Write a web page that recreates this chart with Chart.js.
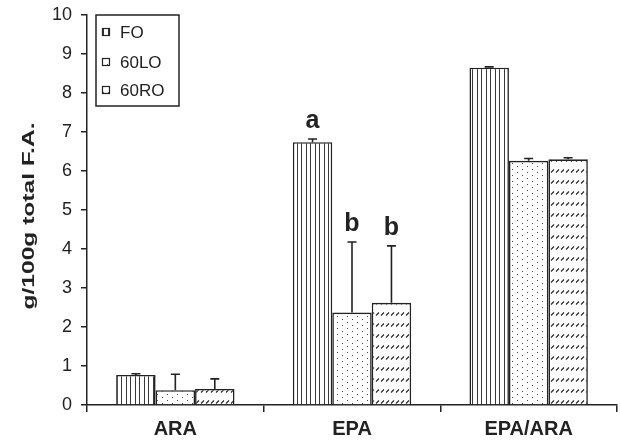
<!DOCTYPE html>
<html><head><meta charset="utf-8">
<script src="https://cdn.jsdelivr.net/npm/chart.js@4/dist/chart.umd.min.js"></script>
<style>html,body{margin:0;padding:0;background:#fff}</style>
</head><body>
<canvas id="c" width="620" height="448"></canvas>
<script>
const categories = ['ARA', 'EPA', 'EPA/ARA'];
const seriesNames = ['FO', '60LO', '60RO'];
const foValues = [0.77, 6.74, 8.65];
const loValues = [0.38, 2.37, 6.26];
const roValues = [0.41, 2.62, 6.30];
const foErrors = [0.03, 0.08, 0.02];
const loErrors = [0.41, 1.81, 0.06];
const roErrors = [0.26, 1.46, 0.04];
const foLetters = ['', 'a', ''];
const loLetters = ['', 'b', ''];
const roLetters = ['', 'b', ''];
const yTicks = [0, 1, 2, 3, 4, 5, 6, 7, 8, 9, 10];
const yTitle = 'g/100g total F.A.';

const FONT = '"Liberation Sans", Arial, sans-serif';
const INK = '#222';

function makePattern(kind) {
  const t = document.createElement('canvas');
  const g = t.getContext('2d');
  if (kind === 'vlines') {
    t.width = 9; t.height = 4;
    g.fillStyle = '#fff'; g.fillRect(0, 0, 9, 4);
    g.fillStyle = '#3a3a3a';
    g.fillRect(0, 0, 1, 4); g.fillRect(4, 0, 1, 4);
  } else if (kind === 'dots') {
    t.width = 10; t.height = 6;
    g.fillStyle = '#fff'; g.fillRect(0, 0, 10, 6);
    g.fillStyle = '#444';
    g.fillRect(2, 1, 1, 1); g.fillRect(7, 4, 1, 1);
  } else {
    t.width = 5; t.height = 11;
    g.fillStyle = '#fff'; g.fillRect(0, 0, 5, 11);
    g.strokeStyle = '#222'; g.lineWidth = 1.1;
    g.beginPath(); g.moveTo(1, 7.5); g.lineTo(4, 4.5); g.stroke();
  }
  return document.getElementById('c').getContext('2d').createPattern(t, 'repeat');
}
const patterns = [makePattern('vlines'), makePattern('dots'), makePattern('hatch')];
const errorSets = [foErrors, loErrors, roErrors];
const letterSets = [foLetters, loLetters, roLetters];

const errorBars = {
  id: 'errorBars',
  afterDatasetsDraw(chart) {
    const ctx = chart.ctx, ys = chart.scales.y;
    ctx.save();
    chart.data.datasets.forEach((ds, i) => {
      const meta = chart.getDatasetMeta(i);
      meta.data.forEach((el, j) => {
        const top = ys.getPixelForValue(ds.data[j] + errorSets[i][j]);
        ctx.strokeStyle = INK; ctx.lineWidth = 1.6;
        ctx.beginPath();
        ctx.moveTo(el.x, el.y); ctx.lineTo(el.x, top);
        ctx.moveTo(el.x - 4.5, top); ctx.lineTo(el.x + 4.5, top);
        ctx.stroke();
        const lab = letterSets[i][j];
        if (lab) {
          ctx.fillStyle = INK;
          ctx.font = 'bold 25px ' + FONT;
          ctx.textAlign = 'center'; ctx.textBaseline = 'alphabetic';
          ctx.fillText(lab, el.x, top - 11);
        }
      });
    });
    ctx.restore();
  }
};

const extras = {
  id: 'extras',
  afterDraw(chart) {
    const ctx = chart.ctx;
    ctx.save();
    ctx.font = 'bold 17px ' + FONT;
    const w = ctx.measureText(yTitle).width;
    ctx.translate(29, 216);
    ctx.rotate(-Math.PI / 2);
    ctx.scale(187 / w, 1);
    ctx.fillStyle = INK; ctx.textAlign = 'center'; ctx.textBaseline = 'middle';
    ctx.fillText(yTitle, 0, 0);
    ctx.restore();
    ctx.save();
    const L = 96, T = 15, R = 179, B = 106;
    ctx.fillStyle = '#fff'; ctx.fillRect(L, T, R - L, B - T);
    ctx.strokeStyle = INK; ctx.lineWidth = 1.5;
    ctx.strokeRect(L, T, R - L, B - T);
    const rows = [32, 62, 90];
    ctx.font = '17px ' + FONT;
    ctx.textBaseline = 'middle'; ctx.textAlign = 'left';
    seriesNames.forEach((name, i) => {
      const cy = rows[i];
      ctx.fillStyle = patterns[i];
      ctx.fillRect(102, cy - 4, 8, 8);
      ctx.strokeStyle = INK; ctx.lineWidth = 1.2;
      ctx.strokeRect(102.5, cy - 3.5, 7, 7);
      ctx.fillStyle = INK;
      ctx.fillText(name, 120, cy + 1);
    });
    ctx.restore();
  }
};

new Chart(document.getElementById('c'), {
  type: 'bar',
  data: {
    labels: categories,
    datasets: [foValues, loValues, roValues].map((vals, i) => ({
      label: seriesNames[i],
      data: vals,
      backgroundColor: patterns[i],
      borderColor: INK,
      borderWidth: 1.6,
      barPercentage: 1,
      categoryPercentage: 0.67
    }))
  },
  options: {
    responsive: false,
    animation: false,
    devicePixelRatio: 1,
    layout: { padding: { top: 15, right: 3, left: 0, bottom: 0 } },
    plugins: { legend: { display: false }, tooltip: { enabled: false } },
    scales: {
      x: {
        grid: { offset: true, drawOnChartArea: false, tickLength: 7, color: INK, lineWidth: 1.5 },
        border: { color: INK, width: 1.5 },
        ticks: { font: { family: FONT, size: 20, weight: 'bold' }, color: INK, padding: 5 },
        afterFit(s) { s.height = 43; }
      },
      y: {
        min: 0, max: 10,
        afterBuildTicks(s) { s.ticks = yTicks.map(v => ({ value: v })); },
        ticks: { font: { family: FONT, size: 18 }, color: INK, padding: 9 },
        grid: { drawOnChartArea: false, tickLength: 6, color: INK, lineWidth: 1.5 },
        border: { color: INK, width: 1.5 },
        afterFit(s) { s.width = 87; s.paddingTop = 0; s.paddingBottom = 0; }
      }
    }
  },
  plugins: [errorBars, extras]
});
</script>
</body></html>
